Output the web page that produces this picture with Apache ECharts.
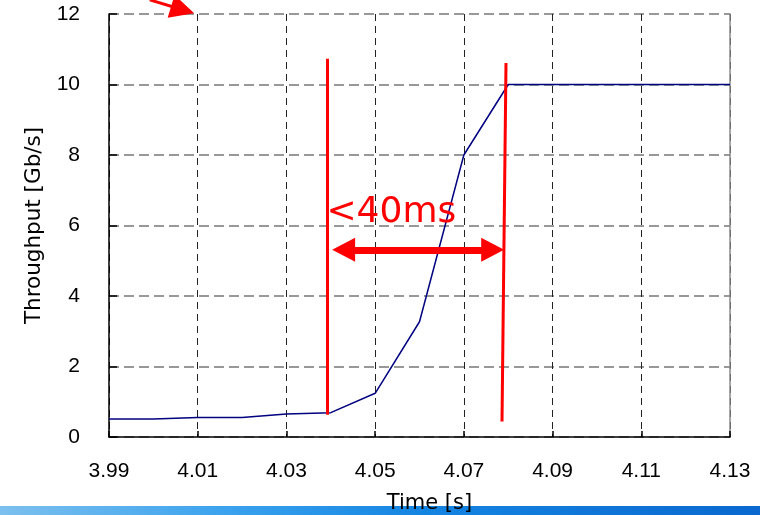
<!DOCTYPE html>
<html>
<head>
<meta charset="utf-8">
<script src="https://cdn.jsdelivr.net/npm/echarts@6/dist/echarts.min.js"></script>
<style>
  html, body { margin: 0; padding: 0; background: #fff; }
  #main { width: 760px; height: 515px; }
</style>
</head>
<body>
<div id="main"></div>
<script>
// measured samples, time in seconds
const times = [3.99, 4.00, 4.01, 4.02, 4.03, 4.04, 4.05, 4.06, 4.07, 4.08, 4.09, 4.10, 4.11, 4.12, 4.13]
const throughput = [0.51, 0.51, 0.55, 0.55, 0.65, 0.69, 1.24, 3.27, 8.0, 10, 10, 10, 10, 10, 10]
const yTicks = [0, 2, 4, 6, 8, 10, 12]

// red hand-drawn annotations (time, Gb/s)
const leftMark = [[4.0391, 10.73], [4.0391, 0.63]]
const rightMark = [[4.0795, 10.61], [4.0786, 0.44]]
const spanArrow = [[4.0429, 5.31], [4.0765, 5.31]]
const pointerArrow = [[3.9992, 12.40], [4.0066, 12.12]]
const spanLabel = { text: '<40ms', at: [4.0389, 6.36] }

const T0 = 3.99
const toX = t => Math.round((t - T0) * 10000) / 10 // ms from 3.99

const chart = echarts.init(document.getElementById('main'), null, { renderer: 'canvas' })

const redLine = (pts, w) => [{ coord: [toX(pts[0][0]), pts[0][1]], lineStyle: { width: w } },
  { coord: [toX(pts[1][0]), pts[1][1]] }]

chart.setOption({
  backgroundColor: '#fff',
  animation: false,
  grid: { left: 109, right: 30, top: 14, bottom: 78, outerBoundsMode: 'none' },
  xAxis: {
    type: 'value',
    min: 0,
    max: 140,
    interval: 20,
    name: 'Time [s]',
    nameLocation: 'middle',
    nameGap: 56,
    nameTextStyle: { fontFamily: 'DejaVu Sans', fontSize: 21, color: '#000', padding: [0, 0, 0, 20] },
    axisLine: { lineStyle: { color: '#000', width: 1.5 } },
    axisTick: { inside: true, length: 6, lineStyle: { color: '#000', width: 1.5 } },
    axisLabel: {
      margin: 24,
      fontFamily: 'Liberation Sans',
      fontSize: 21,
      color: '#000',
      formatter: v => (T0 + v / 1000).toFixed(2)
    },
    splitLine: { show: true, lineStyle: { color: '#222', type: [7, 5], width: 1 } }
  },
  yAxis: [{
    type: 'value',
    min: yTicks[0],
    max: yTicks[yTicks.length - 1],
    interval: 2,
    name: 'Throughput [Gb/s]',
    nameLocation: 'middle',
    nameGap: 62,
    nameTextStyle: { fontFamily: 'DejaVu Sans', fontSize: 21.5, color: '#000' },
    axisLine: { show: true, lineStyle: { color: '#000', width: 1.5 } },
    axisTick: { show: true, inside: true, length: 8, lineStyle: { color: '#000', width: 1.5 } },
    axisLabel: { margin: 29, fontFamily: 'Liberation Sans', fontSize: 21, color: '#000' },
    splitLine: { show: true, lineStyle: { color: '#777', type: [10, 5], width: 1.5 } }
  }, {
    type: 'value',
    position: 'right',
    min: 0,
    max: 12,
    axisLine: { show: true, lineStyle: { color: '#888', width: 1.5 } },
    axisTick: { show: false },
    axisLabel: { show: false },
    splitLine: { show: false }
  }],
  graphic: [{
    type: 'rect',
    shape: { x: 0, y: 506, width: 760, height: 9 },
    z: -10,
    style: {
      fill: new echarts.graphic.LinearGradient(0, 0, 1, 0, [
        { offset: 0, color: '#7cc0ee' },
        { offset: 0.3, color: '#3aa2ee' },
        { offset: 0.55, color: '#1585e2' },
        { offset: 1, color: '#0a68cf' }
      ])
    }
  }],
  series: [{
    type: 'line',
    data: times.map((t, i) => [toX(t), throughput[i]]),
    symbol: 'none',
    lineStyle: { color: '#000080', width: 1.5 },
    z: 3
  }, {
    type: 'line',
    data: [],
    z: 5,
    markLine: {
      silent: true,
      animation: false,
      symbol: ['none', 'none'],
      label: { show: false },
      lineStyle: { color: '#ff0000', type: 'solid', width: 3 },
      data: [redLine(leftMark, 3), redLine(rightMark, 3)]
    }
  }, {
    type: 'line',
    data: [],
    z: 5,
    markLine: {
      silent: true,
      animation: false,
      symbol: ['triangle', 'triangle'],
      symbolSize: [24, 23],
      label: { show: false },
      lineStyle: { color: '#ff0000', type: 'solid', width: 7 },
      data: [redLine(spanArrow, 7)]
    },
    markPoint: {
      silent: true,
      animation: false,
      symbol: 'circle',
      symbolSize: 1,
      itemStyle: { color: 'rgba(0,0,0,0)' },
      label: {
        show: true,
        position: 'right',
        distance: 0,
        formatter: spanLabel.text,
        fontFamily: 'DejaVu Sans',
        fontSize: 36,
        color: '#ff0000'
      },
      data: [{ coord: [toX(spanLabel.at[0]), spanLabel.at[1]] }]
    }
  }, {
    // pointer arrow sits above the plot, so draw it as a lines series without clipping
    type: 'lines',
    coordinateSystem: 'cartesian2d',
    clip: false,
    silent: true,
    z: 5,
    symbol: ['none', 'triangle'],
    symbolSize: [20, 24],
    lineStyle: { color: '#ff0000', width: 3, opacity: 1, curveness: 0 },
    data: [{ coords: pointerArrow.map(p => [toX(p[0]), p[1]]) }]
  }]
})
</script>
</body>
</html>
